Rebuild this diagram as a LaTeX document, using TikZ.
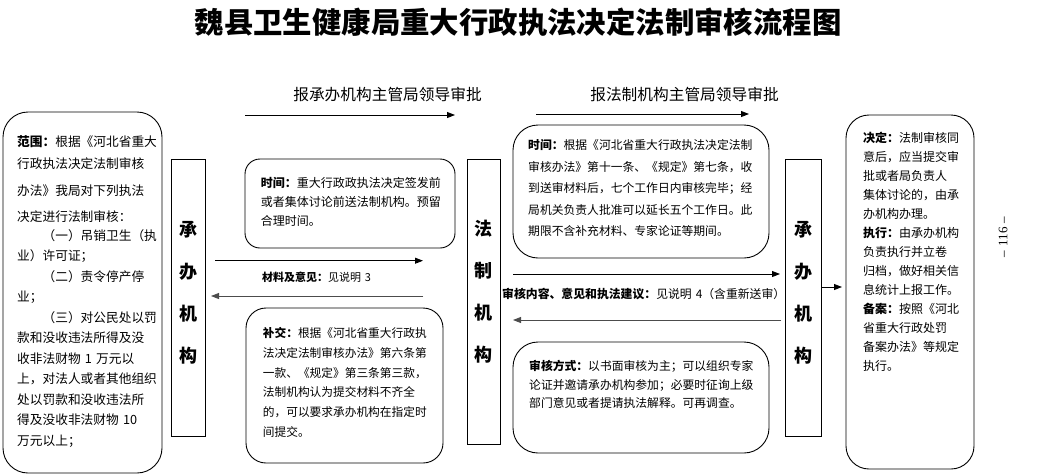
\documentclass[tikz,border=0pt]{standalone}
\usepackage{fontspec}
\setmainfont{Noto Sans CJK SC}
\newfontfamily\pnfont{Liberation Serif}
\usetikzlibrary{arrows.meta}
\newcommand\myfs[2]{\fontsize{#1}{#2}\selectfont}
\begin{document}
\begin{tikzpicture}[x=1pt,y=-1pt,
  rbox/.style={draw=black, line width=0.9pt, rounded corners=#1, inner sep=0pt},
  vbox/.style={draw=black, line width=1pt, inner sep=0pt},
  txt/.style={inner sep=0pt, anchor=base west, align=left, text width=#1},
  vtxt/.style={inner sep=0pt, align=center, text width=24pt, font=\myfs{18}{42}\bfseries},
  arr/.style={line width=0.9pt, -{Triangle[length=8pt,width=6pt]}},
  garr/.style={arr, draw=black!70, fill=black!70}
]
\useasboundingbox (0,0) rectangle (1059,475);

% title
\node[inner sep=0pt, font=\myfs{29.4}{30}\bfseries] (title) at (518,22.5) {魏县卫生健康局重大行政执法决定法制审核流程图};

% top labels and arrows
\node[inner sep=0pt, font=\myfs{15.7}{16}] (lab1) at (387.5,95) {报承办机构主管局领导审批};
\node[inner sep=0pt, font=\myfs{15.7}{16}] (lab2) at (684.5,95) {报法制机构主管局领导审批};
\coordinate (t1s) at (245,115); \coordinate (t1e) at (455,115);
\coordinate (t2s) at (536,114); \coordinate (t2e) at (749,114);
\draw[arr] (t1s) -- (t1e);
\draw[arr] (t2s) -- (t2e);

% left scope box
\node[rbox=25, minimum width=159pt, minimum height=361pt] (scopebox) at (82.5,292.5) {};
\node[txt=145pt, font=\myfs{12.7}{20.5}] (scopetext) at (17,146.5) {\textbf{范围：}根据《河北省重大\\[1pt]
行政执法决定法制审核\\[6.5pt]
办法》我局对下列执法\\[6pt]
决定进行法制审核：\\[-2pt]
\hspace*{2em}（一）吊销卫生（执\\
业）许可证；\\
\hspace*{2em}（二）责令停产停\\
业；\\
\hspace*{2em}（三）对公民处以罚\\
款和没收违法所得及没\\
收非法财物 1 万元以\\
上，对法人或者其他组织\\
处以罚款和没收违法所\\
得及没收非法财物 10\\
万元以上；};

% vertical organ boxes
\node[vbox, minimum width=34pt, minimum height=277pt] (cb1) at (188,297.5) {};
\node[vtxt] (cb1t) at (188,292.5) {承\\办\\机\\构};
\node[vbox, minimum width=33pt, minimum height=285pt] (fz) at (483.5,301.5) {};
\node[vtxt] (fzt) at (483.5,292) {法\\制\\机\\构};
\node[vbox, minimum width=36pt, minimum height=277pt] (cb2) at (803,297.5) {};
\node[vtxt] (cb2t) at (803,292.5) {承\\办\\机\\构};

% time box 1
\node[rbox=15, minimum width=210pt, minimum height=89pt] (time1) at (350,203.5) {};
\node[txt=190pt, font=\myfs{12}{19}] (time1t) at (260.7,187.3) {\textbf{时间：}重大行政政执法决定签发前\\
或者集体讨论前送法制机构。预留\\
合理时间。};

% arrows between cb1 and fz
\coordinate (m1s) at (215,260.7); \coordinate (m1e) at (423,260.7);
\coordinate (m2s) at (423,296); \coordinate (m2e) at (211,296);
\draw[arr] (m1s) -- (m1e);
\draw[garr] (m2s) -- (m2e);
\node[txt=160pt, font=\myfs{11}{12}] (mat) at (262,281) {\textbf{材料及意见：}见说明 3};

% supplement box
\node[rbox=20, minimum width=197pt, minimum height=155pt] (supp) at (344.5,385.5) {};
\node[txt=180pt, font=\myfs{11.7}{19.8}] (suppt) at (262.7,337.5) {\textbf{补交：}根据《河北省重大行政执\\
法决定法制审核办法》第六条第\\
一款、《规定》第三条第三款，\\
法制机构认为提交材料不齐全\\
的，可以要求承办机构在指定时\\
间提交。};

% time box 2
\node[rbox=25, minimum width=256pt, minimum height=133pt] (time2) at (641,191.5) {};
\node[txt=235pt, font=\myfs{11.8}{21.5}] (time2t) at (528,149.5) {\textbf{时间：}根据《河北省重大行政执法决定法制\\
审核办法》第十一条、《规定》第七条，收\\
到送审材料后，七个工作日内审核完毕；经\\
局机关负责人批准可以延长五个工作日。此\\
期限不含补充材料、专家论证等期间。};

% arrows between fz and cb2
\coordinate (r1s) at (513,274); \coordinate (r1e) at (780,274);
\coordinate (r2s) at (781,320); \coordinate (r2e) at (513,320);
\draw[arr] (r1s) -- (r1e);
\draw[garr] (r2s) -- (r2e);
\node[txt=295pt, font=\myfs{11.85}{12}] (rev) at (502,298.3) {\textbf{审核内容、意见和执法建议：}见说明 4（含重新送审）};

% review method box
\node[rbox=25, minimum width=256pt, minimum height=111pt] (meth) at (641,397.5) {};
\node[txt=235pt, font=\myfs{11.8}{18.5}] (metht) at (529,370.5) {\textbf{审核方式：}以书面审核为主；可以组织专家\\
论证并邀请承办机构参加；必要时征询上级\\
部门意见或者提请执法解释。可再调查。};

% final box
\coordinate (f1s) at (822,287); \coordinate (f1e) at (842,287);
\draw[arr] (f1s) -- (f1e);
\node[rbox=23, minimum width=128pt, minimum height=354pt] (final) at (910,292) {};
\node[txt=105pt, font=\myfs{12}{19}] (finalt) at (863,142.6) {\textbf{决定：}法制审核同\\
意后，应当提交审\\
批或者局负责人\\
集体讨论的，由承\\
办机构办理。\\
\textbf{执行：}由承办机构\\
负责执行并立卷\\
归档，做好相关信\\
息统计上报工作。\\
\textbf{备案：}按照《河北\\
省重大行政处罚\\
备案办法》等规定\\
执行。};

% page number
\node[inner sep=0pt, rotate=90, font=\pnfont\myfs{13}{13}] (pageno) at (1003,237) {–\hspace{4pt}116\hspace{4pt}–};
\end{tikzpicture}
\end{document}
